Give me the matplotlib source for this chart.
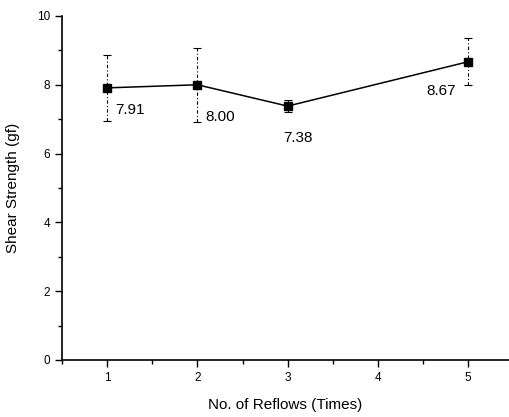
import matplotlib
matplotlib.use("Agg")
import matplotlib.pyplot as plt
from matplotlib.ticker import MultipleLocator

plt.rcParams["font.family"] = ["Liberation Sans", "DejaVu Sans"]

# data
reflows = [1, 2, 3, 5]
strength = [7.91, 8.00, 7.38, 8.67]
err = [0.95, 1.08, 0.18, 0.68]
labels = ["7.91", "8.00", "7.38", "8.67"]
label_offsets = [(6, -21), (6, -28), (-3, -28), (-30, -26)]

fig = plt.figure(figsize=(5.1, 4.17), dpi=100)
ax = fig.add_axes([0.1216, 0.1367, 0.876, 0.825])

ax.plot(reflows, strength, color="black", lw=1.1, marker="s", ms=5.5, zorder=3)
eb = ax.errorbar(reflows, strength, yerr=err, fmt="none", ecolor="black",
                 elinewidth=0.8, capsize=3, capthick=0.8, zorder=2)
eb[2][0].set_linestyle((0, (3, 2, 1, 2)))

for x, y, txt, off in zip(reflows, strength, labels, label_offsets):
    ax.annotate(txt, (x, y), xytext=off, textcoords="offset points",
                fontsize=11, ha="left", va="bottom")

ax.set_xlim(0.5, 5.45)
ax.set_ylim(0, 10)
ax.xaxis.set_major_locator(MultipleLocator(1))
ax.xaxis.set_minor_locator(MultipleLocator(0.5))
ax.yaxis.set_major_locator(MultipleLocator(2))
ax.yaxis.set_minor_locator(MultipleLocator(1))
ax.tick_params(which="major", length=5, width=1, labelsize=8.5)
ax.tick_params(which="minor", length=3, width=1)

ax.spines["top"].set_visible(False)
ax.spines["right"].set_visible(False)
ax.spines["left"].set_linewidth(1.2)
ax.spines["bottom"].set_linewidth(1.2)

ax.set_xlabel("No. of Reflows (Times)", fontsize=11, labelpad=10)
ax.set_ylabel("Shear Strength (gf)", fontsize=11, labelpad=12)

fig.savefig("out.png", dpi=100)
